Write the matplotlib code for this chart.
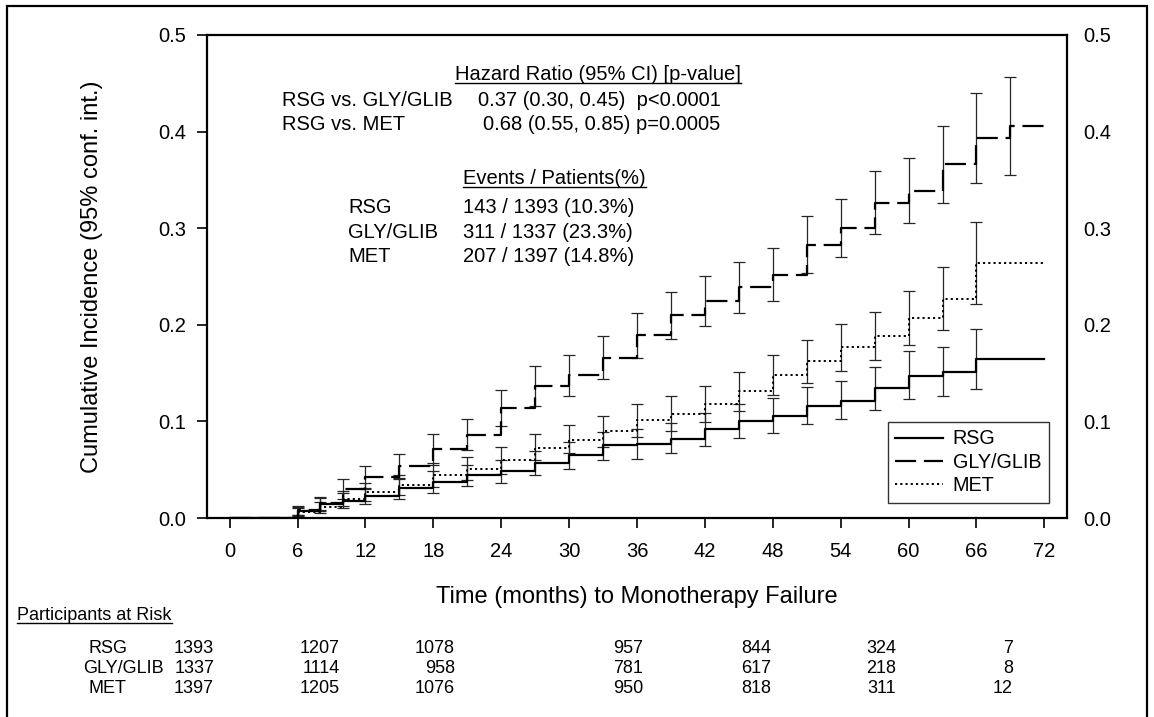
import matplotlib
matplotlib.use("Agg")
import matplotlib.pyplot as plt
from matplotlib.lines import Line2D
from matplotlib.patches import Rectangle
import numpy as np

plt.rcParams['font.family'] = ['Liberation Sans', 'DejaVu Sans']

# ---------------- data ----------------
groups = ["RSG", "GLY/GLIB", "MET"]
follow_up_end = 72

rsg_times = [6, 8, 10, 12, 15, 18, 21, 24, 27, 30, 33, 36, 39, 42, 45, 48, 51, 54, 57, 60, 63, 66]
rsg_inc = [0.0075, 0.0144, 0.018, 0.0227, 0.0306, 0.0375, 0.044, 0.0485, 0.057, 0.0656, 0.0753,
           0.077, 0.082, 0.092, 0.100, 0.1055, 0.1158, 0.1216, 0.1343, 0.1474, 0.1515, 0.165]
rsg_lo = [0.003, 0.007, 0.010, 0.014, 0.020, 0.026, 0.033, 0.036, 0.044, 0.051, 0.0605,
          0.061, 0.067, 0.075, 0.083, 0.088, 0.097, 0.102, 0.112, 0.123, 0.126, 0.134]
rsg_hi = [0.012, 0.021, 0.026, 0.031, 0.041, 0.049, 0.055, 0.060, 0.069, 0.079, 0.089,
          0.092, 0.098, 0.109, 0.118, 0.124, 0.136, 0.142, 0.156, 0.1725, 0.177, 0.196]

gly_times = [6, 8, 10, 12, 15, 18, 21, 24, 27, 30, 33, 36, 39, 42, 45, 48, 51, 54, 57, 60, 63, 66, 69]
gly_inc = [0.008, 0.016, 0.030, 0.042, 0.0536, 0.0718, 0.086, 0.1137, 0.1368, 0.1478, 0.1653,
           0.1897, 0.2103, 0.2247, 0.239, 0.252, 0.283, 0.300, 0.326, 0.339, 0.3667, 0.393, 0.406]
gly_lo = [0.003, 0.008, 0.020, 0.030, 0.040, 0.055, 0.070, 0.0948, 0.1155, 0.1268, 0.1436,
          0.1657, 0.185, 0.199, 0.212, 0.2247, 0.254, 0.270, 0.2935, 0.305, 0.326, 0.347, 0.3546]
gly_hi = [0.0117, 0.0213, 0.040, 0.0536, 0.0667, 0.0866, 0.102, 0.132, 0.157, 0.169, 0.188,
          0.2127, 0.234, 0.2505, 0.265, 0.279, 0.313, 0.3306, 0.3595, 0.373, 0.406, 0.4395, 0.4567]

met_times = [6, 8, 10, 12, 15, 18, 21, 24, 27, 30, 33, 36, 39, 42, 45, 48, 51, 54, 57, 60, 63, 66]
met_inc = [0.006, 0.011, 0.0196, 0.0265, 0.034, 0.0443, 0.051, 0.0598, 0.0725, 0.081, 0.0897,
           0.101, 0.108, 0.1178, 0.131, 0.148, 0.163, 0.1766, 0.188, 0.207, 0.227, 0.264]
met_lo = [0.002, 0.005, 0.012, 0.018, 0.024, 0.032, 0.039, 0.046, 0.060, 0.067, 0.0735,
          0.084, 0.090, 0.099, 0.111, 0.127, 0.140, 0.1526, 0.1636, 0.179, 0.195, 0.222]
met_hi = [0.010, 0.017, 0.028, 0.036, 0.045, 0.057, 0.063, 0.0735, 0.087, 0.096, 0.106,
          0.118, 0.126, 0.1364, 0.151, 0.169, 0.1845, 0.2007, 0.2137, 0.235, 0.260, 0.306]

x_ticks = list(range(0, 73, 6))
y_ticks = [0.0, 0.1, 0.2, 0.3, 0.4, 0.5]

hr_rows = [("RSG vs. GLY/GLIB", "0.37 (0.30, 0.45)  p<0.0001"),
           ("RSG vs. MET", "0.68 (0.55, 0.85) p=0.0005")]
events_rows = [("RSG", "143 / 1393 (10.3%)"),
               ("GLY/GLIB", "311 / 1337 (23.3%)"),
               ("MET", "207 / 1397 (14.8%)")]

risk_times = [0, 12, 24, 36, 48, 60, 72]
risk_rsg = [1393, 1207, 1078, 957, 844, 324, 7]
risk_gly = [1337, 1114, 958, 781, 617, 218, 8]
risk_met = [1397, 1205, 1076, 950, 818, 311, 12]

# ---------------- layout ----------------
W, H = 1154, 717
fig = plt.figure(figsize=(W / 100, H / 100), dpi=100)

def fx(px):
    return px / W

def fy(py):
    return 1 - py / H

ax_l, ax_r, ax_t, ax_b = 207, 1067, 35, 518
ax = fig.add_axes([fx(ax_l), fy(ax_b), fx(ax_r - ax_l), (ax_b - ax_t) / H])

FS = 14.5
TFS = 13

series = [
    (rsg_times, rsg_inc, rsg_lo, rsg_hi, dict(ls='-', lw=1.6)),
    (gly_times, gly_inc, gly_lo, gly_hi, dict(ls=(0, (9.5, 3.5)), lw=1.6)),
    (met_times, met_inc, met_lo, met_hi, dict(ls=(0, (1.1, 1.6)), lw=1.4)),
]

handles = []
for (t, v, lo, hi, style), name in zip(series, groups):
    t = np.asarray(t, float)
    v = np.asarray(v, float)
    lo = np.asarray(lo, float)
    hi = np.asarray(hi, float)
    ax.errorbar(t, v, yerr=[v - lo, hi - v], fmt='none', ecolor='#262626',
                elinewidth=0.9, capsize=4, capthick=0.9, zorder=2)
    xs = np.concatenate([[0], t, [follow_up_end]])
    ys = np.concatenate([[0], v, [v[-1]]])
    ln, = ax.step(xs, ys, where='post', color='black', zorder=3, label=name, **style)
    handles.append(ln)

ax.set_xlim(-2, 74)
ax.set_ylim(0, 0.5)
ax.set_xticks(x_ticks)
ax.set_xticklabels([str(x) for x in x_ticks], fontsize=FS)
ax.set_yticks(y_ticks)
ax.set_yticklabels([f"{y:.1f}" for y in y_ticks], fontsize=FS)
ax.tick_params(axis='x', direction='out', length=7, width=1.2, pad=10)
ax.tick_params(axis='y', direction='out', length=7, width=1.2, pad=8)
for s in ax.spines.values():
    s.set_linewidth(1.6)

ax2 = ax.twinx()
ax2.set_ylim(0, 0.5)
ax2.set_yticks(y_ticks)
ax2.set_yticklabels([f"{y:.1f}" for y in y_ticks], fontsize=FS)
ax2.tick_params(axis='y', length=0, pad=12)
for s in ax2.spines.values():
    s.set_visible(False)

ax.set_xlabel("Time (months) to Monotherapy Failure", fontsize=17)
ax.xaxis.set_label_coords(0.5, (ax_b - 597) / (ax_b - ax_t))
ax.xaxis.label.set_va('center')
ax.set_ylabel("Cumulative Incidence (95% conf. int.)", fontsize=17)
ax.yaxis.set_label_coords((92 - ax_l) / (ax_r - ax_l), 0.5)
ax.yaxis.label.set_va('center')

leg = ax.legend(handles=handles, loc='lower right',
                bbox_to_anchor=((1049 - ax_l) / (ax_r - ax_l), (ax_b - 503) / (ax_b - ax_t)),
                borderaxespad=0, fontsize=14.2, frameon=True, fancybox=False,
                handlelength=2.4, handletextpad=0.5, labelspacing=0.22,
                borderpad=0.4)
leg.get_frame().set_edgecolor('black')
leg.get_frame().set_linewidth(1.0)

# annotations
underlined = []
t = fig.text(fx(455), fy(80.5), "Hazard Ratio (95% CI) [p-value]", fontsize=FS,
             ha='left', va='baseline')
underlined.append((t, 82.5))
for (lab, val), yb, xv in zip(hr_rows, [106, 130], [478, 483]):
    fig.text(fx(282), fy(yb), lab, fontsize=FS, ha='left', va='baseline')
    fig.text(fx(xv), fy(yb), val, fontsize=FS, ha='left', va='baseline')

t = fig.text(fx(463), fy(184), "Events / Patients(%)", fontsize=FS, ha='left', va='baseline')
underlined.append((t, 186.5))
for (lab, val), yb in zip(events_rows, [213, 238.5, 261.5]):
    fig.text(fx(348), fy(yb), lab, fontsize=FS, ha='left', va='baseline')
    fig.text(fx(463), fy(yb), val, fontsize=FS, ha='left', va='baseline')

# risk table
t = fig.text(fx(17), fy(620), "Participants at Risk", fontsize=TFS, ha='left', va='baseline')
underlined.append((t, 623))
col_right = [214, 340, 455, 643, 771, 896, 1013]
row_base = [653, 673, 693]
row_left = [88, 83, 88]
for lab, counts, yb, xl in zip(groups, [risk_rsg, risk_gly, risk_met], row_base, row_left):
    fig.text(fx(xl), fy(yb), lab, fontsize=TFS, ha='left', va='baseline')
    for c, xr in zip(counts, col_right):
        fig.text(fx(xr), fy(yb), str(c), fontsize=TFS, ha='right', va='baseline')

# outer frame
fig.add_artist(Rectangle((fx(7), -0.05), fx(1147 - 7), fy(6) + 0.05, fill=False,
                         edgecolor='black', lw=1.6, transform=fig.transFigure, clip_on=False))

fig.canvas.draw()
r = fig.canvas.get_renderer()
for txt, yu in underlined:
    bb = txt.get_window_extent(r)
    fig.add_artist(Line2D([bb.x0 / W, bb.x1 / W], [fy(yu), fy(yu)], color='black', lw=1.0,
                          transform=fig.transFigure))

fig.savefig("out.png", dpi=100)
